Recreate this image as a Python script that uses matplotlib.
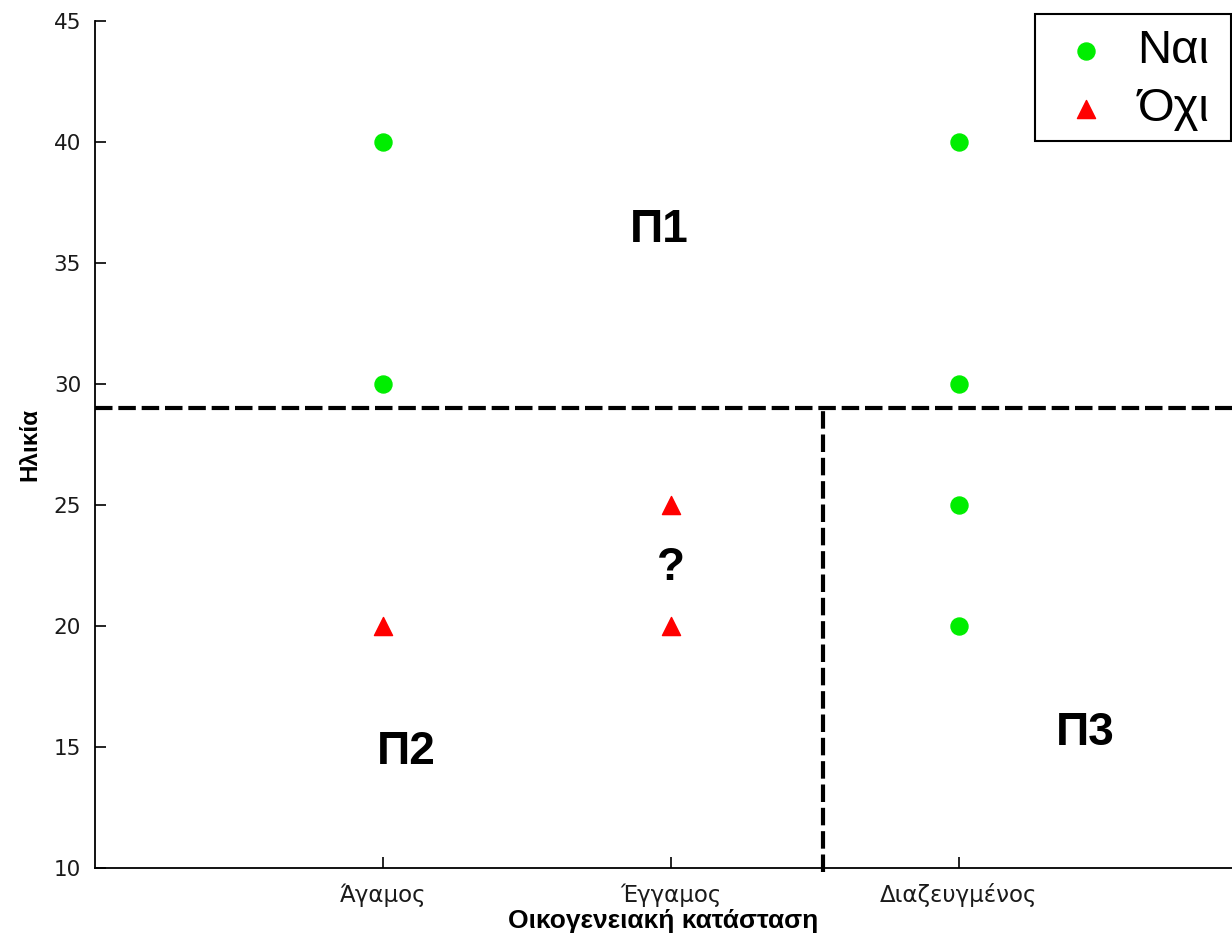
import matplotlib.pyplot as plt
from matplotlib.patches import Rectangle

plt.rcParams['font.family'] = ['Liberation Sans', 'DejaVu Sans']

categories = ['Άγαμος', 'Έγγαμος', 'Διαζευγμένος']
yes_x = [1, 1, 3, 3, 3, 3]
yes_age = [40, 30, 40, 30, 25, 20]
no_x = [1, 2, 2]
no_age = [20, 25, 20]
split_age = 29
split_x = 2.53
regions = [('Π1', 1.96, 36.35), ('Π2', 1.08, 14.8), ('Π3', 3.44, 15.6), ('?', 2.0, 22.4)]

fig = plt.figure(figsize=(12.32, 9.36), dpi=100)
ax = fig.add_axes([0.0771, 0.0726, 0.9229, 0.905])

ax.scatter(yes_x, yes_age, s=150, marker='o', color='#00ee00', label='Ναι', zorder=3)
ax.scatter(no_x, no_age, s=170, marker='^', color='#ff0000', label='Όχι', zorder=3)

ax.plot([0, 4], [split_age, split_age], color='black', lw=3, dashes=(4.2, 1.4))
ax.plot([split_x, split_x], [9.85, split_age], color='black', lw=3,
        dashes=(4.2, 1.4), clip_on=False)

for txt, x, y in regions:
    ax.text(x, y, txt, fontsize=33, fontweight='bold', ha='center', va='center')

ax.set_xlim(0, 3.95)
ax.set_ylim(10, 45)
ax.set_xticks([1, 2, 3])
ax.set_xticklabels(categories, fontsize=16.5, family='DejaVu Sans', color='#1a1a1a')
ax.set_yticks(range(10, 50, 5))
ax.set_yticklabels([str(v) for v in range(10, 50, 5)], fontsize=15.5,
                   family='DejaVu Sans', color='#1a1a1a')
ax.tick_params(axis='y', direction='in', length=8, width=1.2, pad=10)
ax.tick_params(axis='x', direction='in', length=8, width=1.2, pad=11)
for side in ['left', 'bottom']:
    ax.spines[side].set_linewidth(1.3)
ax.spines['top'].set_visible(False)
ax.spines['right'].set_visible(False)
ax.set_xlabel('Οικογενειακή κατάσταση', fontsize=19, fontweight='bold', labelpad=1)
ax.set_ylabel('Ηλικία', fontsize=17.5, fontweight='bold', labelpad=9)

# legend box drawn separately so the padding can differ per side
frame = Rectangle((1035 / 1232, 1 - 141 / 936), 196 / 1232, 127 / 936,
                  transform=fig.transFigure, facecolor='white', edgecolor='black',
                  lw=1.5, zorder=4, clip_on=False)
ax.add_artist(frame)
leg = ax.legend(loc='upper left', bbox_to_anchor=(1035 / 1232, 1 - 14 / 936),
                bbox_transform=fig.transFigure, borderaxespad=0,
                fontsize=34, frameon=False, handlelength=1.5,
                handletextpad=0.35, borderpad=0.32, labelspacing=0.3)
leg.set_zorder(5)

fig.savefig('out.png', dpi=100)
